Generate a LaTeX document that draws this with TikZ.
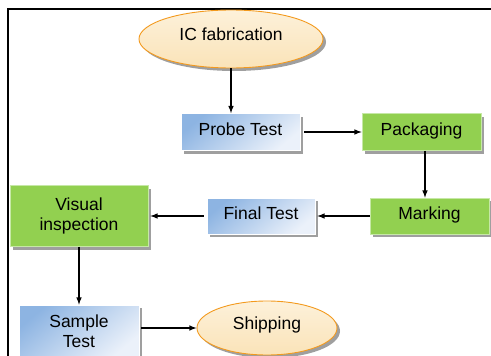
\documentclass[tikz,border=0pt]{standalone}
\usepackage{fontspec}
\setmainfont{Liberation Sans}
\usepackage{xcolor}
\usetikzlibrary{arrows,calc,positioning,shapes.geometric,shadows}

\definecolor{peachA}{HTML}{FDF1DA}
\definecolor{peachB}{HTML}{FAE3B8}
\definecolor{orangeline}{HTML}{F39A1E}
\definecolor{blueA}{HTML}{8DB4E2}
\definecolor{blueB}{HTML}{EBF1FA}
\definecolor{greenfill}{HTML}{92D050}
\definecolor{greenline}{HTML}{C6E8A6}

\tikzset{
	boxshadow/.style={drop shadow={shadow xshift=3pt,shadow yshift=-3pt,fill=gray!75,opacity=1}},
	terminal/.style={ellipse,draw=orangeline,line width=0.9pt,top color=peachA,bottom color=peachB,inner sep=0pt,text height=12pt,text depth=10pt,boxshadow},
	testbox/.style={rectangle,draw=white,line width=0.6pt,top color=blueA,bottom color=blueB,shading angle=40,inner sep=0pt,align=center,boxshadow},
	workbox/.style={rectangle,draw=greenline,line width=0.6pt,fill=greenfill,inner sep=0pt,align=center,boxshadow},
	oneline/.style={text height=12pt,text depth=5pt},
	flow/.style={line width=1.5pt,-latex}
}

\begin{document}
\begin{tikzpicture}[x=1pt,y=-1pt,font=\fontsize{17.5}{19.5}\selectfont]
		\useasboundingbox (0,0) rectangle (491,356);
		\draw[line width=2pt] (8,9) rectangle (500,370);
		% start and end of the flow
		\node[terminal,minimum width=184pt,minimum height=58pt] (ic) at (231,39) {IC fabrication};
		\node[terminal,minimum width=140pt,minimum height=54pt] (ship) at (267,328) {Shipping};
		% test steps
		\node[testbox,oneline,minimum width=119pt,minimum height=37pt] (probe) at (240.5,132) {Probe Test};
		\node[testbox,oneline,minimum width=108pt,minimum height=36pt] (final) at (261,216) {Final Test};
		\node[testbox,minimum width=120pt,minimum height=52pt] (sample) at (79,331) {Sample\\Test};
		% work steps
		\node[workbox,oneline,minimum width=119pt,minimum height=37pt] (pack) at (421.5,132) {Packaging};
		\node[workbox,oneline,minimum width=119pt,minimum height=36pt] (mark) at (429.5,216) {Marking};
		\node[workbox,minimum width=138pt,minimum height=61pt] (visual) at (79,216) {Visual\\inspection};
		% arrows
		\draw[flow] (ic.south) -- (ic.south |- probe.north);
		\draw[flow,shorten <=4pt] (probe.east) -- (pack.west);
		\draw[flow] ([xshift=3.5pt]pack.south) -- ([xshift=3.5pt]pack.south |- mark.north);
		\draw[flow,shorten >=2pt] (mark.west) -- (final.east);
		\draw[flow,shorten <=3pt,shorten >=2pt] (final.west) -- (final.west -| visual.east);
		\draw[flow] (visual.south) -- (sample.north);
		\draw[flow,shorten <=2pt] (sample.east |- ship.west) -- (ship.west);
		\end{tikzpicture}
\end{document}
